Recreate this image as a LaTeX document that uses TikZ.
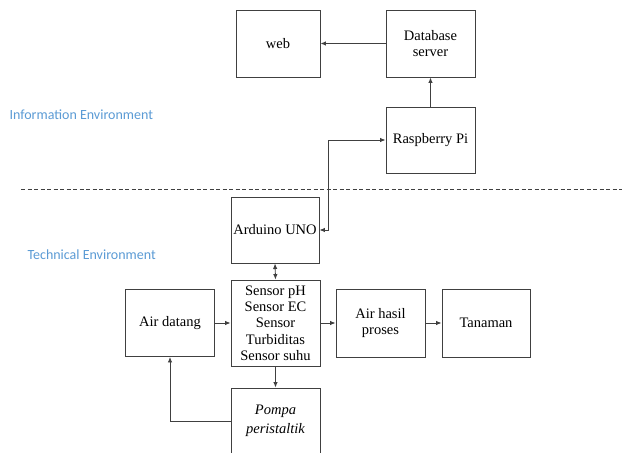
\documentclass[tikz,border=0pt]{standalone}
\usepackage{fontspec}
\setmainfont{Liberation Serif}
\newfontfamily\boxfont{Liberation Serif}
\newfontfamily\labelfont{Carlito}
\definecolor{envblue}{HTML}{5B9BD5}
\definecolor{linegray}{HTML}{404040}
\usetikzlibrary{arrows.meta,positioning,calc}

\begin{document}
\begin{tikzpicture}[x=1pt, y=-1pt, >={Latex[length=5.5pt,width=4.5pt]},
  font=\boxfont\fontsize{14.5}{16.3}\selectfont,
  block/.style={draw=linegray, line width=0.9pt, fill=white, align=center,
    minimum width=89pt, minimum height=67pt, inner sep=2pt},
  link/.style={draw=linegray, line width=0.9pt},
  envlabel/.style={anchor=west, text=envblue, font=\labelfont\fontsize{14}{16}\selectfont}]
  \clip (0,0) rectangle (622,453);
  \fill[white] (0,0) rectangle (622,453);

  % Information environment
  \node[block, minimum width=84pt] (web) at (278,43.5) {web};
  \node[block] (db) at (430.5,43.5) {Database\\server};
  \node[block, minimum height=66pt] (rpi) at (430.5,140) {Raspberry Pi};
  \node[envlabel] (info) at (6,115) {Information Environment};

  % Separator
  \draw[linegray, line width=0.8pt, dash pattern=on 4pt off 2.5pt] (21,189) -- (622,189);

  % Technical environment
  \node[envlabel] (tech) at (24,255) {Technical Environment};
  \node[block, minimum width=88pt, minimum height=66pt] (ard) at (275,230) {Arduino UNO};
  \node[block, minimum height=86pt] (sens) at (275.5,323)
    {Sensor pH\\Sensor EC\\Sensor\\Turbiditas\\Sensor suhu};
  \node[block] (air) at (170,323) {Air datang};
  \node[block, minimum height=68pt] (hasil) at (380.5,323) {Air hasil\\proses};
  \node[block, minimum width=88pt, minimum height=68pt] (tan) at (486,323) {Tanaman};
  \node[block, minimum height=66pt, font=\boxfont\fontsize{14.5}{19}\selectfont\itshape] (pompa) at (275.5,421)
    {Pompa\\peristaltik};

  % Connectors
  \draw[link, ->] (db.west) -- (web.east);
  \draw[link, ->] (rpi.north) -- (db.south);
  \draw[link, <->] (ard.east) -- ++(9,0) |- (rpi.west);
  \draw[link, <->] (ard.south) -- (sens.north);
  \draw[link, ->] (air.east) -- (sens.west);
  \draw[link, ->] (sens.east) -- (hasil.west);
  \draw[link, ->] (hasil.east) -- (tan.west);
  \draw[link, ->] (sens.south) -- (pompa.north);
  \draw[link, ->] (pompa.west) -| (air.south);
\end{tikzpicture}
\end{document}
